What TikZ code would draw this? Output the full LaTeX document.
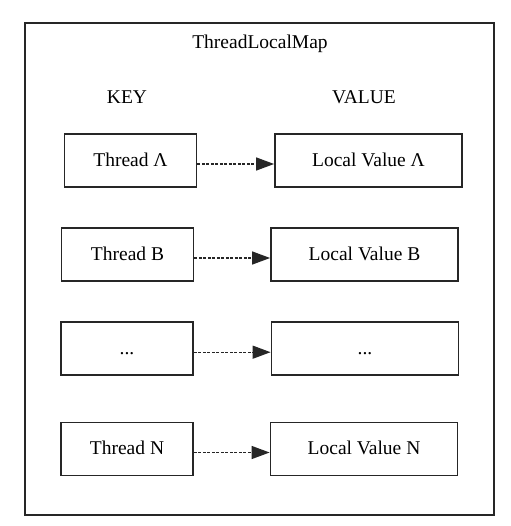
\documentclass[tikz,border=0pt]{standalone}
\usepackage{fontspec}
\setmainfont{Liberation Serif}
\usetikzlibrary{arrows.meta}
\begin{document}
\begin{tikzpicture}[x=1pt,y=-1pt,
  every node/.style={font=\fontsize{19.5}{22}\selectfont, text=black},
  keybox/.style={draw=black!85, line width=1.8pt, minimum width=132pt, minimum height=53pt, inner sep=0pt, text height=14pt, text depth=2.5pt},
  valbox/.style={keybox, minimum width=187pt},
  link/.style={draw=black!85, line width=1.4pt, dash pattern=on 3pt off 1.5pt, -{Triangle[length=18pt,width=13pt]}}]
\useasboundingbox (0,0) rectangle (510,526);
\draw[draw=black!85, line width=1.8pt] (25,23) rectangle (494,515);
\node (title) at (260,44) {ThreadLocalMap};
\node (keyh) at (127,97) {KEY};
\node (valh) at (364,97) {VALUE};
\node[keybox] (k1) at (130.5,160.5) {Thread Λ};
\node[valbox] (v1) at (368.5,160.5) {Local Value Λ};
\node[keybox] (k2) at (127.5,254.5) {Thread B};
\node[valbox] (v2) at (364.5,254.5) {Local Value B};
\node[keybox] (k3) at (127,348.7) {...};
\node[valbox] (v3) at (365,348.7) {...};
\node[keybox] (k4) at (127,449) {Thread N};
\node[valbox] (v4) at (364,449) {Local Value N};
\draw[link] ([yshift=-3.5pt]k1.east) -- ([yshift=-3.5pt]v1.west);
\draw[link] ([yshift=-3.5pt]k2.east) -- ([yshift=-3.5pt]v2.west);
\draw[link] ([yshift=-3.5pt]k3.east) -- ([yshift=-3.5pt]v3.west);
\draw[link] ([yshift=-3.5pt]k4.east) -- ([yshift=-3.5pt]v4.west);
\end{tikzpicture}
\end{document}
